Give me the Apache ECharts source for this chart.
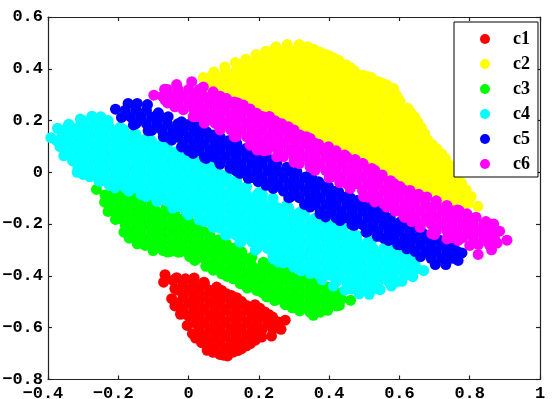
<!DOCTYPE html>
<html><head><meta charset="utf-8">
<style>html,body{margin:0;padding:0;background:#fff}#c{width:554px;height:399px}</style>
<script src="https://cdn.jsdelivr.net/npm/echarts@6/dist/echarts.min.js"></script>
</head><body><div id="c"></div>
<script>
const seriesNames=['c1','c2','c3','c4','c5','c6'];
const seriesColors=['#ff0000','#ffff00','#00ff00','#00ffff','#0000ff','#ff00ff'];
const xTickLabels=['\u22120.4\u00a0','\u22120.2\u00a0','0','0.2','0.4','0.6','0.8','1'];
const yTickLabels=['\u22120.8','\u22120.6','\u22120.4','\u22120.2','0','0.2','0.4','0.6'];

const c1Edge=[[-.067,-.395],[-.071,-.424],[-.034,-.407],[-.009,-.411],[.016,-.408],[.044,-.424],[.08,-.443],[.108,-.469],[.137,-.484],[.165,-.514],[.189,-.511],[.217,-.539],[.239,-.559],[.275,-.571],[.256,-.578],[.263,-.606],[.236,-.632],[.208,-.636],[.176,-.661],[.151,-.681],[.127,-.694],[.111,-.709],[.089,-.703],[.053,-.687],[.037,-.658],[.011,-.623],[-.004,-.591],[-.023,-.548],[-.039,-.516],[-.048,-.488],[-.039,-.449],[-.044,-.417],[.094,-.456],[.122,-.476],[.151,-.499],[.203,-.525],[.228,-.549],[.02,-.64],[.07,-.695],[.1,-.706],[.14,-.688],[.165,-.67],[.19,-.648]];
const c1Rows=[[-.43,-.015,.015,.045],[-.455,-.03,0,.03,.06,.09],[-.48,-.015,.015,.045,.075,.105,.125],[-.505,-.03,0,.03,.06,.09,.12,.15],[-.53,-.015,.015,.045,.075,.105,.135,.165,.195],[-.555,0,.03,.06,.09,.12,.15,.18,.21],[-.58,.015,.045,.075,.105,.135,.165,.195,.225,.245],[-.605,.03,.06,.09,.12,.15,.18,.21,.24],[-.63,.045,.075,.105,.135,.165,.195],[-.655,.06,.09,.12,.15,.17],[-.68,.075,.105,.135]];

const c2Edge=[[.042,.366],[.072,.388],[.103,.407],[.133,.424],[.163,.437],[.192,.455],[.22,.468],[.249,.485],[.281,.494],[.315,.494],[.339,.485],[.372,.465],[.4,.45],[.427,.433],[.448,.416],[.472,.392],[.496,.375],[.52,.366],[.541,.35],[.564,.337],[.583,.324],[.59,.3],[.602,.272],[.624,.247],[.643,.215],[.662,.174],[.68,.125],[.707,.09],[.731,.054],[.753,.003],[.777,-.042],[.804,-.093],[.823,-.131],[.778,-.128],[.652,.195],[.672,.15],[.693,.108],[.72,.072],[.742,.028],[.765,-.02],[.79,-.068],[.356,.475],[.386,.457],[.414,.441],[.46,.404],[.508,.37],[.552,.343],[.597,.285],[.633,.23],[.06,.335],[.12,.3],[.175,.265],[.23,.235],[.29,.195],[.35,.155],[.41,.115],[.47,.08],[.53,.04],[.59,-.01],[.65,-.06],[.71,-.1]];
const c2Rows=[[.47,.24,.27,.30,.33,.36],[.444,.195,.225,.255,.285,.315,.345,.375,.405],[.418,.15,.18,.21,.24,.27,.30,.33,.36,.39,.42],[.392,.105,.135,.165,.195,.225,.255,.285,.315,.345,.375,.405,.435,.465],[.366,.06,.09,.12,.15,.18,.21,.24,.27,.3,.33,.36,.39,.42,.45,.48,.51],[.34,.075,.105,.135,.165,.195,.225,.255,.285,.315,.345,.375,.405,.435,.465,.495,.525,.555],[.314,.09,.12,.15,.18,.21,.24,.27,.3,.33,.36,.39,.42,.45,.48,.51,.54,.57],[.288,.135,.165,.195,.225,.255,.285,.315,.345,.375,.405,.435,.465,.495,.525,.555,.585],[.262,.15,.18,.21,.24,.27,.3,.33,.36,.39,.42,.45,.48,.51,.54,.57,.6],[.236,.195,.225,.255,.285,.315,.345,.375,.405,.435,.465,.495,.525,.555,.585,.615],[.21,.24,.27,.3,.33,.36,.39,.42,.45,.48,.51,.54,.57,.6,.63],[.184,.285,.315,.345,.375,.405,.435,.465,.495,.525,.555,.585,.615,.645],[.158,.3,.33,.36,.39,.42,.45,.48,.51,.54,.57,.6,.63,.655],[.132,.345,.375,.405,.435,.465,.495,.525,.555,.585,.615,.645,.665],[.106,.39,.42,.45,.48,.51,.54,.57,.6,.63,.66,.675],[.08,.435,.465,.495,.525,.555,.585,.615,.645,.675,.7],[.054,.48,.51,.54,.57,.6,.63,.66,.69,.72],[.028,.525,.555,.585,.615,.645,.675,.705,.735],[.002,.54,.57,.6,.63,.66,.69,.72,.75],[-.024,.585,.615,.645,.675,.705,.735,.76],[-.05,.63,.66,.69,.72,.75,.775],[-.076,.675,.705,.735,.765,.785],[-.10,.72,.75,.78,.80],[-.12,.765,.795]];

const c3Edge=[[-.262,-.066],[-.238,-.087],[-.219,-.087],[-.195,-.087],[-.172,-.09],[-.129,-.1],[-.091,-.113],[-.063,-.134],[-.015,-.179],[.023,-.212],[.061,-.244],[.108,-.276],[.151,-.308],[.213,-.347],[.251,-.372],[.289,-.392],[.347,-.417],[.394,-.443],[.427,-.469],[.461,-.494],[.429,-.514],[.396,-.533],[.355,-.552],[.316,-.535],[.275,-.511],[.222,-.481],[.194,-.456],[.167,-.447],[.127,-.411],[.094,-.392],[.049,-.363],[.018,-.34],[-.025,-.308],[-.072,-.302],[-.101,-.302],[-.124,-.282],[-.146,-.276],[-.169,-.254],[-.184,-.231],[-.208,-.182],[-.229,-.151],[-.239,-.115],[-.04,-.157],[.005,-.195],[.04,-.228],[.085,-.26],[.13,-.292],[.18,-.328],[.232,-.36],[.27,-.382],[.318,-.405],[.37,-.43],[.41,-.456],[.003,-.325],[.07,-.378],[.11,-.402],[.147,-.43],[.245,-.495],[.295,-.523],[-.05,-.305]];
const c3Rows=[[-.1,-.21,-.18,-.15],[-.126,-.225,-.195,-.165,-.135,-.105],[-.152,-.21,-.18,-.15,-.12,-.09,-.06],[-.178,-.195,-.165,-.135,-.105,-.075,-.045,-.015],[-.204,-.18,-.15,-.12,-.09,-.06,-.03,0],[-.23,-.165,-.135,-.105,-.075,-.045,-.015,.015,.045],[-.256,-.15,-.12,-.09,-.06,-.03,0,.03,.06],[-.282,-.105,-.075,-.045,-.015,.015,.045,.075,.105],[-.308,-.06,-.03,0,.03,.06,.09,.12,.15],[-.334,.015,.045,.075,.105,.135,.165],[-.36,.06,.09,.12,.15,.18,.21],[-.386,.105,.135,.165,.195,.225,.255,.28],[-.412,.15,.18,.21,.24,.27,.30,.33],[-.438,.165,.195,.225,.255,.285,.315,.345,.375],[-.464,.21,.24,.27,.30,.33,.36,.39,.42],[-.49,.255,.285,.315,.345,.375,.405,.435],[-.516,.30,.33,.36,.39,.42],[-.54,.345,.375]];

const c4Edge=[[-.392,.134],[-.373,.17],[-.341,.186],[-.308,.206],[-.275,.217],[-.25,.215],[-.229,.2],[-.185,.166],[-.12,.131],[-.034,.08],[.051,.035],[.108,-.01],[.165,-.055],[.24,-.1],[.317,-.154],[.4,-.2],[.479,-.244],[.56,-.29],[.64,-.327],[.669,-.379],[.638,-.403],[.607,-.421],[.577,-.439],[.545,-.453],[.514,-.471],[.485,-.469],[.412,-.439],[.347,-.391],[.299,-.366],[.241,-.334],[.146,-.269],[.07,-.212],[-.006,-.154],[-.063,-.109],[-.12,-.094],[-.226,-.049],[-.281,-.017],[-.317,0],[-.355,.064],[-.366,.099],[-.155,.15],[-.08,.105],[.005,.06],[.08,.012],[.137,-.032],[.2,-.078],[.28,-.125],[.36,-.177],[.44,-.222],[.52,-.267],[.6,-.31],[.445,-.455],[.38,-.415],[.32,-.38],[.27,-.35],[.19,-.3],[.11,-.24],[.03,-.183],[-.035,-.132],[-.09,-.1],[-.17,-.072],[-.25,-.035]];
const c4Rows=[[.2,-.30,-.27,-.24],[.174,-.345,-.315,-.285,-.255,-.225,-.195],[.148,-.36,-.33,-.30,-.27,-.24,-.21,-.18,-.15],[.122,-.375,-.345,-.315,-.285,-.255,-.225,-.195,-.165,-.135,-.105],[.096,-.36,-.33,-.30,-.27,-.24,-.21,-.18,-.15,-.12,-.09,-.06],[.07,-.345,-.315,-.285,-.255,-.225,-.195,-.165,-.135,-.105,-.075,-.045,-.015],[.044,-.33,-.30,-.27,-.24,-.21,-.18,-.15,-.12,-.09,-.06,-.03,0,.03],[.018,-.315,-.285,-.255,-.225,-.195,-.165,-.135,-.105,-.075,-.045,-.015,.015,.045,.07],[-.008,-.30,-.27,-.24,-.21,-.18,-.15,-.12,-.09,-.06,-.03,0,.03,.06,.09],[-.034,-.255,-.225,-.195,-.165,-.135,-.105,-.075,-.045,-.015,.015,.045,.075,.105,.13],[-.06,-.21,-.18,-.15,-.12,-.09,-.06,-.03,0,.03,.06,.09,.12,.15],[-.086,-.135,-.105,-.075,-.045,-.015,.015,.045,.075,.105,.135,.165,.195,.21],[-.112,-.09,-.06,-.03,0,.03,.06,.09,.12,.15,.18,.21,.24],[-.138,-.045,-.015,.015,.045,.075,.105,.135,.165,.195,.225,.255,.285],[-.164,0,.03,.06,.09,.12,.15,.18,.21,.24,.27,.3,.33],[-.19,.045,.075,.105,.135,.165,.195,.225,.255,.285,.315,.345,.375],[-.216,.09,.12,.15,.18,.21,.24,.27,.3,.33,.36,.39,.42,.44],[-.242,.105,.135,.165,.195,.225,.255,.285,.315,.345,.375,.405,.435,.465],[-.268,.15,.18,.21,.24,.27,.3,.33,.36,.39,.42,.45,.48,.51],[-.294,.195,.225,.255,.285,.315,.345,.375,.405,.435,.465,.495,.525,.555,.58],[-.32,.24,.27,.3,.33,.36,.39,.42,.45,.48,.51,.54,.57,.6,.63],[-.346,.255,.285,.315,.345,.375,.405,.435,.465,.495,.525,.555,.585,.615,.645],[-.372,.33,.36,.39,.42,.45,.48,.51,.54,.57,.6,.63,.65],[-.398,.375,.405,.435,.465,.495,.525,.555,.585,.615],[-.424,.42,.45,.48,.51,.54,.57,.59],[-.45,.465,.495,.525,.54]];

const c5Edge=[[-.208,.244],[-.191,.212],[-.172,.266],[-.146,.266],[-.117,.262],[-.086,.23],[-.058,.215],[-.02,.195],[.023,.176],[.051,.157],[.089,.131],[.137,.112],[.189,.073],[.222,.06],[.251,.035],[.308,.003],[.336,-.017],[.37,-.036],[.427,-.075],[.479,-.109],[.536,-.141],[.574,-.179],[.602,-.192],[.631,-.212],[.668,-.237],[.716,-.263],[.753,-.282],[.778,-.311],[.767,-.34],[.732,-.356],[.702,-.356],[.621,-.295],[.569,-.263],[.505,-.231],[.471,-.205],[.431,-.186],[.374,-.16],[.346,-.134],[.241,-.062],[.198,-.036],[.17,-.023],[.146,-.004],[.089,.035],[.013,.073],[-.048,.125],[-.072,.138],[-.115,.161],[-.157,.183],[0,.185],[.037,.166],[.07,.144],[.113,.122],[.163,.092],[.205,.066],[.28,.02],[.353,-.027],[.398,-.055],[.453,-.092],[.507,-.125],[.555,-.16],[.69,-.25],[.735,-.272],[-.02,.098],[.05,.054],[.118,.016],[.22,-.05],[.29,-.095],[.39,-.172],[.537,-.247],[.595,-.279],[.66,-.325]];
const c5Rows=[[.24,-.18,-.15,-.12],[.214,-.165,-.135,-.105,-.08],[.188,-.15,-.12,-.09,-.06,-.03],[.162,-.105,-.075,-.045,-.015,.015,.045],[.136,-.06,-.03,0,.03,.06,.09],[.11,-.015,.015,.045,.075,.105,.135],[.084,0,.03,.06,.09,.12,.15,.165],[.058,.045,.075,.105,.135,.165,.195],[.032,.09,.12,.15,.18,.21,.24],[.006,.135,.165,.195,.225,.255,.285],[-.02,.18,.21,.24,.27,.30,.33],[-.046,.225,.255,.285,.315,.345,.375],[-.072,.27,.30,.33,.36,.39,.42],[-.098,.285,.315,.345,.375,.405,.435,.46],[-.124,.33,.36,.39,.42,.45,.48,.51],[-.15,.375,.405,.435,.465,.495,.525],[-.176,.42,.45,.48,.51,.54,.57],[-.202,.465,.495,.525,.555,.585,.615],[-.228,.51,.54,.57,.60,.63,.66],[-.254,.555,.585,.615,.645,.675,.70],[-.28,.60,.63,.66,.69,.72,.75],[-.306,.645,.675,.705,.735,.765],[-.332,.69,.72,.75]];

const c6Edge=[[-.099,.298],[-.068,.321],[-.034,.339],[.009,.35],[.042,.33],[.07,.311],[.108,.285],[.156,.26],[.194,.228],[.222,.208],[.246,.199],[.284,.176],[.317,.144],[.346,.131],[.37,.109],[.398,.099],[.444,.067],[.474,.05],[.521,.015],[.551,-.01],[.602,-.055],[.631,-.075],[.678,-.095],[.735,-.128],[.792,-.16],[.818,-.173],[.846,-.19],[.868,-.199],[.885,-.227],[.906,-.262],[.878,-.273],[.862,-.299],[.824,-.317],[.8,-.282],[.767,-.263],[.735,-.257],[.692,-.237],[.659,-.212],[.612,-.167],[.564,-.134],[.498,-.094],[.46,-.062],[.346,.02],[.251,.06],[.175,.105],[.089,.17],[.013,.215],[-.039,.253],[-.067,.279],[.13,.272],[.175,.245],[.265,.188],[.3,.16],[.42,.083],[.497,.033],[.575,-.032],[.655,-.085],[.705,-.11],[.765,-.145],[.045,.193],[.13,.138],[.215,.083],[.3,.04],[.4,-.02],[.43,-.04],[.53,-.114],[.588,-.15],[.635,-.19],[.7,-.24]];
const c6Rows=[[.32,-.06,-.03,0,.03],[.294,-.075,-.045,-.015,.015,.045,.075,.09],[.268,-.06,-.03,0,.03,.06,.09,.12,.14],[.242,-.015,.015,.045,.075,.105,.135,.165],[.216,.03,.06,.09,.12,.15,.18,.21,.23],[.19,.045,.075,.105,.135,.165,.195,.225,.255],[.164,.09,.12,.15,.18,.21,.24,.27,.30],[.138,.135,.165,.195,.225,.255,.285,.315,.335],[.112,.18,.21,.24,.27,.30,.33,.36],[.086,.195,.225,.255,.285,.315,.345,.375,.405],[.06,.27,.30,.33,.36,.39,.42,.45],[.034,.315,.345,.375,.405,.435,.465,.495],[.008,.36,.39,.42,.45,.48,.51,.53],[-.018,.405,.435,.465,.495,.525,.55],[-.044,.45,.48,.51,.54,.57,.585],[-.07,.495,.525,.555,.585,.615,.63],[-.096,.51,.54,.57,.60,.63,.66],[-.122,.555,.585,.615,.645,.675,.705],[-.148,.60,.63,.66,.69,.72,.75,.77],[-.174,.615,.645,.675,.705,.735,.765,.795],[-.2,.66,.69,.72,.75,.78,.81,.84,.86],[-.226,.705,.735,.765,.795,.825,.855,.875],[-.252,.75,.78,.81,.84,.87],[-.278,.825,.855]];

const edges=[c1Edge,c2Edge,c3Edge,c4Edge,c5Edge,c6Edge];
const rows=[c1Rows,c2Rows,c3Rows,c4Rows,c5Rows,c6Rows];
const points=i=>rows[i].flatMap(([y,...xs])=>xs.map(x=>[x,y])).concat(edges[i]);

const tickFont={color:'#000',fontFamily:'Liberation Mono',fontWeight:'bold',fontSize:17};
const line={lineStyle:{color:'#222',width:1.2}};
const chart=echarts.init(document.getElementById('c'),null,{renderer:'canvas'});
chart.setOption({
  animation:false,
  backgroundColor:'#fff',
  grid:{left:48,top:17,width:492,height:362.5,show:false,outerBoundsMode:'none',containLabel:false},
  xAxis:[
    {type:'value',min:-.4,max:1,interval:.2,position:'bottom',splitLine:{show:false},axisLine:{show:true,onZero:false,...line},axisTick:{show:true,inside:true,length:4,...line},axisLabel:{...tickFont,margin:6,showMinLabel:true,showMaxLabel:true,formatter:(v,i)=>xTickLabels[i]}},
    {type:'value',min:-.4,max:1,interval:.2,position:'top',splitLine:{show:false},axisLine:{show:true,onZero:false,...line},axisTick:{show:true,inside:true,length:4,...line},axisLabel:{show:false}}
  ],
  yAxis:[
    {type:'value',min:-.8,max:.6,interval:.2,position:'left',splitLine:{show:false},axisLine:{show:true,onZero:false,...line},axisTick:{show:true,inside:true,length:4,...line},axisLabel:{...tickFont,margin:5,showMinLabel:true,showMaxLabel:true,formatter:(v,i)=>yTickLabels[i]}},
    {type:'value',min:-.8,max:.6,interval:.2,position:'right',splitLine:{show:false},axisLine:{show:true,onZero:false,...line},axisTick:{show:true,inside:true,length:4,...line},axisLabel:{show:false}}
  ],
  legend:{
    show:true,orient:'vertical',left:454,top:22,
    data:seriesNames,icon:'circle',itemWidth:10,itemHeight:10,itemGap:7,
    padding:[8,8,4,26],
    backgroundColor:'#fff',borderColor:'#000',borderWidth:1,borderRadius:0,
    textStyle:{color:'#000',fontFamily:'Liberation Serif',fontWeight:'bold',fontSize:18,padding:[0,0,0,18]}
  },
  series:seriesNames.map((n,i)=>({
    name:n,type:'scatter',data:points(i),symbol:'circle',symbolSize:11,clip:false,
    itemStyle:{color:seriesColors[i],opacity:1},
    emphasis:{disabled:true}
  }))
});
</script></body></html>
